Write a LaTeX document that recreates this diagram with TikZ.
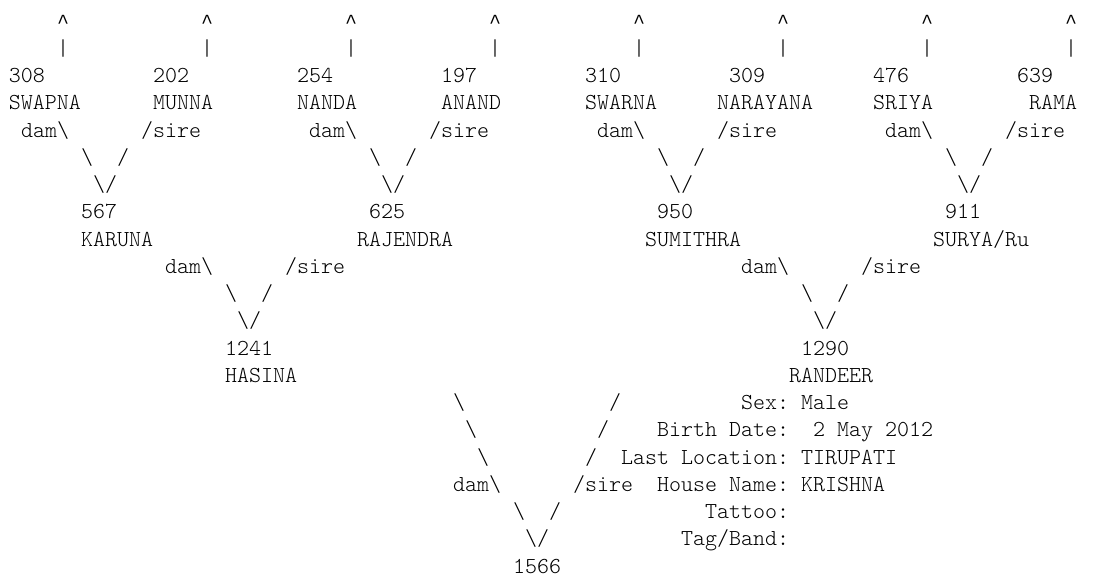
\documentclass[tikz,border=0pt]{standalone}
\usepackage{fontspec}
\setmonofont{lmmonolt10-regular.otf}
\newfontfamily\caretfont{Liberation Mono}
\newcommand\xo{9}
\newcommand\yo{28.2}
\tikzset{txt/.style={anchor=base west,inner sep=0pt,outer sep=0pt,font=\ttfamily\fontsize{22.857}{27}\selectfont,text=black}}
\newcommand\T[4]{\node[txt] (#1) at ({\xo+12*#2},{-(\yo+27.25*#3)}) {#4};}
\newcommand\bs{\textbackslash}
\newcommand\up{{\caretfont\fontsize{20}{27}\selectfont\textasciicircum}}
\begin{document}
\begin{tikzpicture}[x=1pt,y=1pt]
\useasboundingbox[fill=white] (0,0) rectangle (1094,-581);
% row 0 and 1: arrows up
\T{up1}{4}{0}{\up}
\T{up2}{16}{0}{\up}
\T{up3}{28}{0}{\up}
\T{up4}{40}{0}{\up}
\T{up5}{52}{0}{\up}
\T{up6}{64}{0}{\up}
\T{up7}{76}{0}{\up}
\T{up8}{88}{0}{\up}
\T{bar1}{4}{1}{|}
\T{bar2}{16}{1}{|}
\T{bar3}{28}{1}{|}
\T{bar4}{40}{1}{|}
\T{bar5}{52}{1}{|}
\T{bar6}{64}{1}{|}
\T{bar7}{76}{1}{|}
\T{bar8}{88}{1}{|}
% row 2: numbers
\T{n308}{0}{2}{308}
\T{n202}{12}{2}{202}
\T{n254}{24}{2}{254}
\T{n197}{36}{2}{197}
\T{n310}{48}{2}{310}
\T{n309}{60}{2}{309}
\T{n476}{72}{2}{476}
\T{n639}{84}{2}{639}
% row 3: names
\T{swapna}{0}{3}{SWAPNA}
\T{munna}{12}{3}{MUNNA}
\T{nanda}{24}{3}{NANDA}
\T{anand}{36}{3}{ANAND}
\T{swarna}{48}{3}{SWARNA}
\T{narayana}{59}{3}{NARAYANA}
\T{sriya}{72}{3}{SRIYA}
\T{rama}{85}{3}{RAMA}
% row 4
\T{dA1}{1}{4}{dam\bs}
\T{sA1}{11}{4}{/sire}
\T{dA2}{25}{4}{dam\bs}
\T{sA2}{35}{4}{/sire}
\T{dA3}{49}{4}{dam\bs}
\T{sA3}{59}{4}{/sire}
\T{dA4}{73}{4}{dam\bs}
\T{sA4}{83}{4}{/sire}
% row 5
\T{bA1}{6}{5}{\bs}
\T{fA1}{9}{5}{/}
\T{bA2}{30}{5}{\bs}
\T{fA2}{33}{5}{/}
\T{bA3}{54}{5}{\bs}
\T{fA3}{57}{5}{/}
\T{bA4}{78}{5}{\bs}
\T{fA4}{81}{5}{/}
% row 6
\T{vA1}{7}{6}{\bs/}
\T{vA2}{31}{6}{\bs/}
\T{vA3}{55}{6}{\bs/}
\T{vA4}{79}{6}{\bs/}
% row 7-8
\T{n567}{6}{7}{567}
\T{n625}{30}{7}{625}
\T{n950}{54}{7}{950}
\T{n911}{78}{7}{911}
\T{karuna}{6}{8}{KARUNA}
\T{rajendra}{29}{8}{RAJENDRA}
\T{sumithra}{53}{8}{SUMITHRA}
\T{surya}{77}{8}{SURYA/Ru}
% row 9-11
\T{dB1}{13}{9}{dam\bs}
\T{sB1}{23}{9}{/sire}
\T{dB2}{61}{9}{dam\bs}
\T{sB2}{71}{9}{/sire}
\T{bB1}{18}{10}{\bs}
\T{fB1}{21}{10}{/}
\T{bB2}{66}{10}{\bs}
\T{fB2}{69}{10}{/}
\T{vB1}{19}{11}{\bs/}
\T{vB2}{67}{11}{\bs/}
% row 12-13
\T{n1241}{18}{12}{1241}
\T{n1290}{66}{12}{1290}
\T{hasina}{18}{13}{HASINA}
\T{randeer}{65}{13}{RANDEER}
% rows 14-20
\T{bC1}{37}{14}{\bs}
\T{fC1}{50}{14}{/}
\T{sex}{61}{14}{Sex: Male}
\T{bC2}{38}{15}{\bs}
\T{fC2}{49}{15}{/}
\T{birthL}{54}{15}{Birth Date:}
\T{birthV}{67}{15}{2 May 2012}
\T{bC3}{39}{16}{\bs}
\T{fC3}{48}{16}{/}
\T{loc}{51}{16}{Last Location: TIRUPATI}
\T{dC}{37}{17}{dam\bs}
\T{sC}{47}{17}{/sire}
\T{house}{54}{17}{House Name: KRISHNA}
\T{bC4}{42}{18}{\bs}
\T{fC4}{45}{18}{/}
\T{tattoo}{58}{18}{Tattoo:}
\T{vC}{43}{19}{\bs/}
\T{tag}{56}{19}{Tag/Band:}
\T{n1566}{42}{20}{1566}
\end{tikzpicture}
\end{document}
